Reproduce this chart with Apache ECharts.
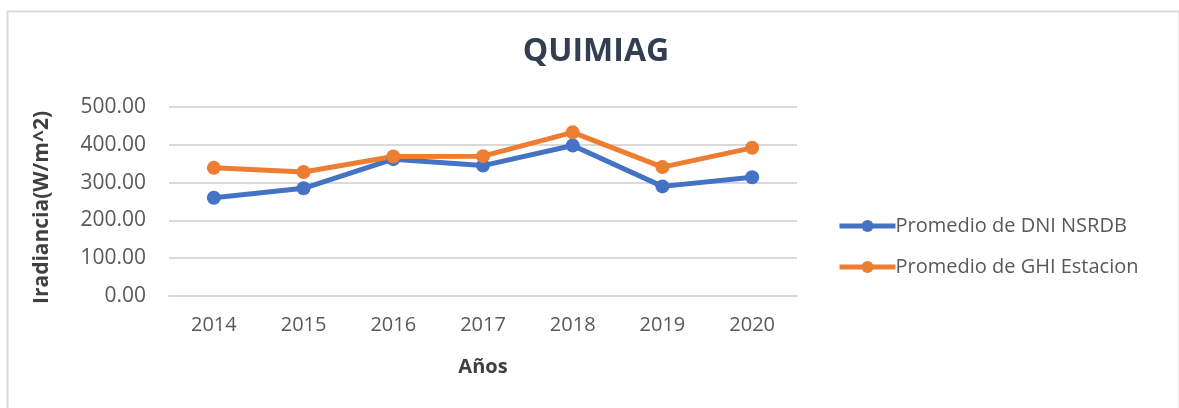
<!DOCTYPE html>
<html>
<head>
<meta charset="utf-8">
<script src="https://cdn.jsdelivr.net/npm/echarts@6/dist/echarts.min.js"></script>
<style>html,body{margin:0;padding:0;background:#fff;}#c{width:1179px;height:408px;}</style>
</head>
<body>
<div id="c"></div>
<script>
const categories = ['2014','2015','2016','2017','2018','2019','2020'];
const dniNsrdb = [260, 285, 362, 345, 398, 290, 314];
const ghiEstacion = [339, 328, 369, 370, 433, 341, 392];
const yTicks = [0, 100, 200, 300, 400, 500];
const seriesNames = ['Promedio de DNI NSRDB', 'Promedio de GHI Estacion'];

const FONT = '"Open Sans", "Noto Sans", sans-serif';
const chart = echarts.init(document.getElementById('c'), null, {renderer: 'canvas'});
chart.setOption({
  animation: false,
  backgroundColor: '#ffffff',
  textStyle: {fontFamily: FONT},
  title: {
    text: 'QUIMIAG',
    left: 591, top: 31, textAlign: 'center',
    textStyle: {fontFamily: FONT, fontSize: 32, fontWeight: 'bold', color: '#333F50'}
  },
  graphic: [{
    type: 'rect', left: 5, top: 9, silent: true,
    shape: {width: 1172, height: 420},
    style: {fill: 'none', stroke: '#D9D9D9', lineWidth: 2}
  }],
  legend: {
    orient: 'vertical', left: 832, top: 211, itemGap: 21,
    itemWidth: 56, itemHeight: 15,
    lineStyle: {width: 5},
    textStyle: {fontFamily: FONT, fontSize: 20, color: '#595959', padding: [0,0,0,-5]},
    data: seriesNames
  },
  grid: {left: 169, right: 382, top: 107, bottom: 112, containLabel: false},
  xAxis: {
    type: 'category', data: categories, boundaryGap: true,
    name: 'Años', nameLocation: 'middle', nameGap: 61,
    nameTextStyle: {fontFamily: FONT, fontSize: 20, fontWeight: 'bold', color: '#404040'},
    axisLine: {show: true, lineStyle: {color: '#D9D9D9', width: 2}},
    axisTick: {show: false},
    axisLabel: {fontFamily: FONT, fontSize: 20, color: '#595959', margin: 19}
  },
  yAxis: {
    type: 'value', min: yTicks[0], max: yTicks[yTicks.length-1], interval: 100,
    name: 'Iradiancia(W/m^2)', nameLocation: 'middle', nameGap: 116,
    nameTextStyle: {fontFamily: FONT, fontSize: 21, fontWeight: 'bold', color: '#404040',
      padding: [0, 12, 0, 0]},
    axisLine: {show: false}, axisTick: {show: false},
    splitLine: {lineStyle: {color: '#D9D9D9', width: 2}},
    axisLabel: {fontFamily: FONT, fontSize: 21, color: '#595959', margin: 23,
      formatter: v => v.toFixed(2)}
  },
  series: [
    {name: seriesNames[0], type: 'line', data: dniNsrdb, symbol: 'circle', symbolSize: 14,
     lineStyle: {color: '#4472C4', width: 5}, itemStyle: {color: '#4472C4'}},
    {name: seriesNames[1], type: 'line', data: ghiEstacion, symbol: 'circle', symbolSize: 14,
     lineStyle: {color: '#ED7D31', width: 5}, itemStyle: {color: '#ED7D31'}}
  ]
});
</script>
</body>
</html>
